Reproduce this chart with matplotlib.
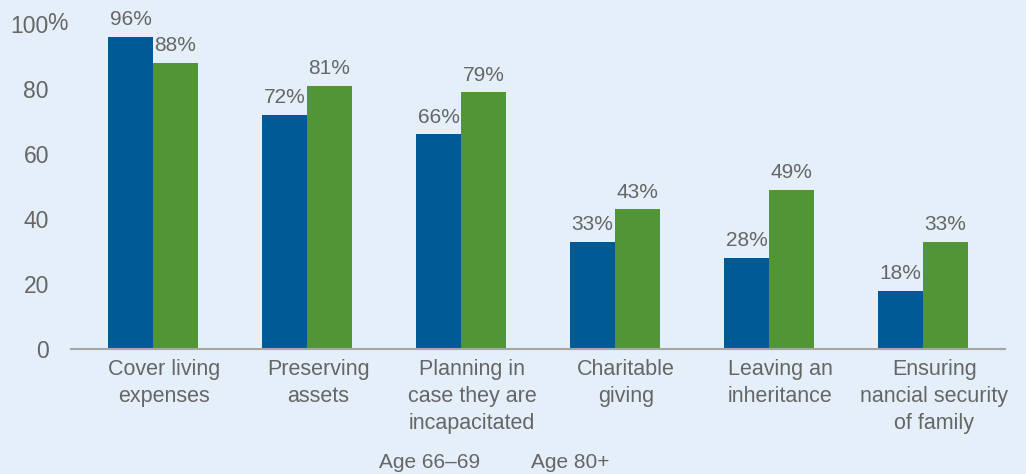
import numpy as np
from matplotlib import pyplot as plt

plt.rcParams['font.family'] = ['Liberation Sans', 'DejaVu Sans']

categories = ["Cover living\nexpenses", "Preserving\nassets", "Planning in\ncase they are\nincapacitated",
              "Charitable\ngiving", "Leaving an\ninheritance", "Ensuring\nnancial security\nof family"]
age_66_69 = [96, 72, 66, 33, 28, 18]
age_80 = [88, 81, 79, 43, 49, 33]
yticks = [0, 20, 40, 60, 80, 100]

bg = "#E4EFF9"
blue = "#005A96"
green = "#529537"
grey = "#666666"

fig = plt.figure(figsize=(10.26, 4.74), dpi=100, facecolor=bg)
ax = fig.add_axes([0.0741, 0.2637, 0.9006, 0.6857])
ax.set_facecolor(bg)

x = np.arange(len(categories))
w = 0.292
b1 = ax.bar(x - w / 2, age_66_69, w, color=blue)
b2 = ax.bar(x + w / 2, age_80, w, color=green)

for bars, vals in [(b1, age_66_69), (b2, age_80)]:
    for rect, v in zip(bars, vals):
        ax.annotate("{}%".format(v), (rect.get_x() + rect.get_width() / 2, v),
                    xytext=(0, 5.5), textcoords="offset points", ha="center", va="bottom",
                    fontsize=15, color=grey, annotation_clip=False)

ax.set_xlim(-0.5, len(categories) - 0.5)
ax.set_ylim(0, 100)
# category labels sit a little right of the group centre (ticks are hidden)
ax.set_xticks(x + 0.072)
ax.set_xticklabels(categories, fontsize=15.5, color=grey, linespacing=1.39)
ax.set_yticks(yticks)
ax.set_yticklabels([str(t) for t in yticks], fontsize=16.5, color=grey)
ax.tick_params(axis="both", length=0)
ax.tick_params(axis="x", pad=7)
ax.tick_params(axis="y", pad=19.5)
for s in ["top", "right", "left"]:
    ax.spines[s].set_visible(False)
ax.spines["bottom"].set_color("#A6A6A6")
ax.spines["bottom"].set_linewidth(1.5)
ax.spines["bottom"].set_bounds(-0.53, 5.53)

# percent sign after the top tick
fig.text(47.5 / 1026, 1 - 24 / 474, "%", fontsize=16.5, color=grey, ha="left", va="center")

fig.text(430 / 1026, 1 - 463 / 474, "Age 66\u201369", fontsize=15, color=grey, ha="center", va="center")
fig.text(570 / 1026, 1 - 463 / 474, "Age 80+", fontsize=15, color=grey, ha="center", va="center")

fig.savefig("out.png", dpi=100, facecolor=bg)
